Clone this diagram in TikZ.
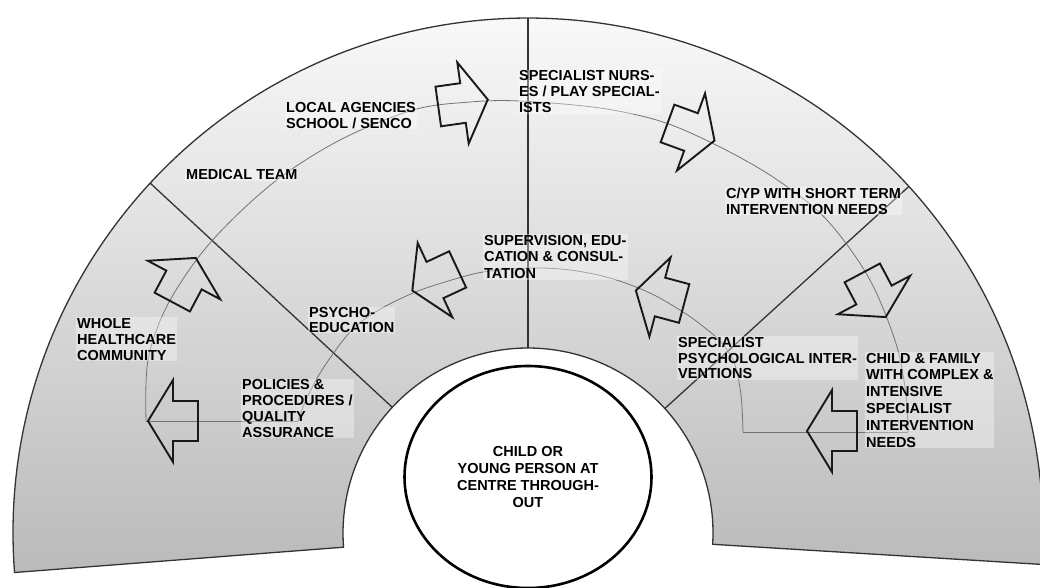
\documentclass[tikz,border=0pt]{standalone}
\usepackage{fontspec}
\setsansfont{Liberation Sans}
\usetikzlibrary{calc,shapes.geometric}
\newcommand\blockarrow[3]{%
  \draw[arr, shift={(#1,#2)}, rotate=#3]
    (25,0) -- (0,41) -- (0,20) -- (-25,20) -- (-25,-20) -- (0,-20) -- (0,-41) -- cycle;}
\begin{document}
\begin{tikzpicture}[x=1pt,y=-1pt,
  rim/.style={draw=black!80, line width=1.3pt},
  flow/.style={draw=black!55, line width=0.8pt},
  arr/.style={draw=black!90, line width=1.9pt, line join=miter},
  lbl/.style={font=\sffamily\bfseries\fontsize{14.5}{15.5}\selectfont, align=left,
    anchor=west, inner sep=1pt, fill=white, fill opacity=0.35, text opacity=1},
  core/.style={ellipse, draw=black, line width=2.6pt, fill=white,
    minimum width=247pt, minimum height=222pt, inner sep=0pt, align=center,
    font=\sffamily\bfseries\fontsize{14.5}{17}\selectfont}
  ]
\useasboundingbox (0,0) rectangle (1040,587);
\fill[white] (0,0) rectangle (1040,587);
\coordinate (C) at (528,533);
% fan
\shadedraw[top color=black!2, bottom color=black!27, rim]
  ($(C)+(-184.4:515)$) arc[start angle=-184.4, end angle=3.5, radius=515]
  -- ($(C)+(3.5:185)$) arc[start angle=3.5, end angle=-184.4, radius=185] -- cycle;
% dividers
\draw[rim] ($(C)+(-90:185)$) -- ($(C)+(-90:515)$);
\draw[rim] ($(C)+(-137.2:185)$) -- ($(C)+(-137.2:515)$);
\draw[rim] ($(C)+(-42.3:185)$) -- ($(C)+(-42.3:515)$);
% flow path
\coordinate (oL) at (146,421);
\coordinate (oR) at (908,432);
\coordinate (iR) at (743,432);
\coordinate (iL) at (298,421);
\draw[flow] plot[smooth, tension=0.55] coordinates {(146,421) (148,360) (168,304) (210,243) (273,183) (340,140) (413,110) (470,102) (520,101) (600,108) (663,122) (720,147) (773,177) (820,213) (853,253) (876,292) (897,347) (906,395) (908,432)};
\draw[flow] (oR) -- (iR);
\draw[flow] plot[smooth, tension=0.55] coordinates {(743,432) (741,395) (734,362) (720,341) (700,324) (683,312) (650,293) (610,278) (570,270) (530,268) (483,272) (445,282) (413,293) (377,311) (350,332) (322,370) (306,400) (298,421)};
\draw[flow] (iL) -- (oL);
% arrows
\blockarrow{173}{421}{180}
\blockarrow{184}{280}{62}
\blockarrow{463}{103}{8}
\blockarrow{691}{132}{-20}
\blockarrow{874}{295}{-62}
\blockarrow{832}{431}{180}
\blockarrow{660}{297}{165}
\blockarrow{435}{280}{205}
% labels
\node[lbl] (local) at (285,115.5) {LOCAL AGENCIES\\SCHOOL / SENCO};
\node[lbl] (medical) at (185,175) {MEDICAL TEAM};
\node[lbl, font=\sffamily\bfseries\fontsize{14.5}{16}\selectfont] (nurses) at (518,92) {SPECIALIST NURS-\\ES / PLAY SPECIAL-\\ISTS};
\node[lbl, font=\sffamily\bfseries\fontsize{14.5}{16}\selectfont] (short) at (725,201) {C/YP WITH SHORT TERM\\INTERVENTION NEEDS};
\node[lbl, font=\sffamily\bfseries\fontsize{14.5}{16.5}\selectfont] (superv) at (483,257) {SUPERVISION, EDU-\\CATION \& CONSUL-\\TATION};
\node[lbl, font=\sffamily\bfseries\fontsize{14.5}{14.5}\selectfont] (psycho) at (308,320) {PSYCHO-\\EDUCATION};
\node[lbl, font=\sffamily\bfseries\fontsize{14.5}{16}\selectfont] (whole) at (76,339) {WHOLE\\HEALTHCARE\\COMMUNITY};
\node[lbl, font=\sffamily\bfseries\fontsize{14.5}{15.7}\selectfont] (policies) at (241,408.5) {POLICIES \&\\PROCEDURES /\\QUALITY\\ASSURANCE};
\node[lbl] (specpsy) at (677,358) {SPECIALIST\\PSYCHOLOGICAL INTER-\\VENTIONS};
\node[lbl, font=\sffamily\bfseries\fontsize{14.5}{16.8}\selectfont] (family) at (865,400) {CHILD \& FAMILY\\WITH COMPLEX \&\\INTENSIVE\\SPECIALIST\\INTERVENTION\\NEEDS};
% centre
\node[core] (child) at (528,477) {CHILD OR\\YOUNG PERSON AT\\CENTRE THROUGH-\\OUT};
\end{tikzpicture}
\end{document}
